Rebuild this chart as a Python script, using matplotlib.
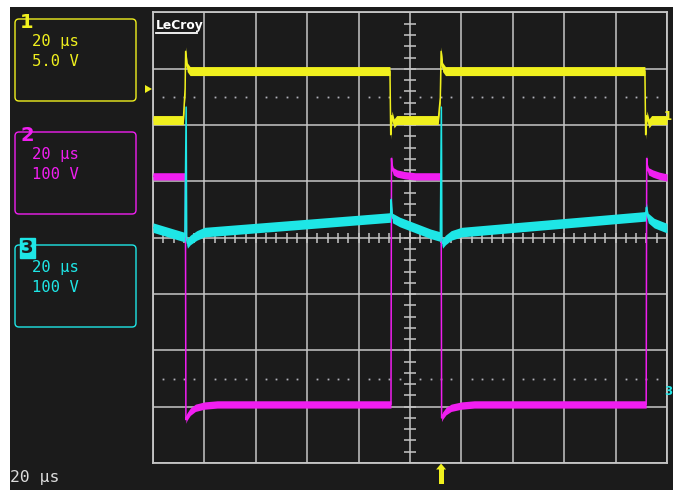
import matplotlib
matplotlib.use("Agg")
import matplotlib.pyplot as plt
import numpy as np
from matplotlib.patches import FancyBboxPatch, Rectangle, Polygon

W, H, DPI = 673, 490, 100

BG = "#1b1b1b"
GRID = "#c6c6c6"
YEL = "#f0f01e"
MAG = "#f01ef0"
CYA = "#1ee6e6"
DOTC = "#b0b0b8"

# ---- acquisition settings -------------------------------------------------
time_per_div = 20.0            # µs / div
t_left, t_right = -100.0, 100.0
div_bottom, div_top = -4.0, 4.0
trigger_time = 12.1            # µs

channel_ids = ["1", "2", "3"]
channel_timebase = ["20 µs", "20 µs", "20 µs"]
channel_vdiv_text = ["5.0 V", "100 V", "100 V"]
channel_vdiv = [5.0, 100.0, 100.0]          # V / div
channel_ground = [2.09, -2.96, -2.62]       # ground position, div
channel_colors = [YEL, MAG, CYA]
channel_noise_div = [0.08, 0.065, 0.085]    # half-height of the noise band, div

# ---- channel 1: gate drive (V) --------------------------------------------
ch1_t = [-100, -88.2, -87.5, -87.3, -86.7, -85.6, -7.8, -7.5, -7.0, -6.2, -5.2,
         11.0, 11.8, 12.1, 12.7, 13.8, 91.4, 91.7, 92.2, 93.0, 94.0, 100]
ch1_v = [0.0, 0.0, 2.8, 6.1, 4.7, 4.35, 4.35, -1.3, 0.4, -0.3, 0.0,
         0.0, 2.0, 6.1, 4.7, 4.35, 4.35, -1.3, 0.4, -0.3, 0.0, 0.0]

# ---- channel 2: switch voltage (V) ----------------------------------------
ch2_t = [-100, -87.4, -87.2, -86.8, -85.5, -83.5, -80, -75,
         -7.4, -7.2, -7.0, -6.5, -5, -2, 2,
         12.1, 12.3, 12.7, 14, 16, 20, 25,
         91.9, 92.1, 92.3, 92.8, 94.5, 97, 100]
ch2_v = [405, 405, -27, -22, -13, -6, -2, 0,
         0, 437, 422, 414, 410, 407, 405,
         405, -24, -20, -12, -6, -2, 0,
         0, 437, 422, 414, 410, 406, 403]

# ---- channel 3 (V) ----------------------------------------------------------
ch3_t = [-100, -87.6, -87.1, -86.9, -86.6, -85.5, -83, -80,
         -7.6, -7.3, -7.1, -6.8, -4, 0, 4, 8,
         11.8, 12.2, 12.4, 12.7, 13.8, 16, 20,
         91.6, 92.0, 92.3, 92.7, 95, 100]
ch3_v = [280, 263, 494, 258, 252, 258, 266, 272,
         298, 330, 310, 297, 290, 283, 276, 269,
         264, 494, 258, 252, 258, 266, 272,
         300, 316, 305, 297, 288, 279]

traces = [(ch1_t, ch1_v), (ch2_t, ch2_v), (ch3_t, ch3_v)]

# ---- figure ----------------------------------------------------------------
fig = plt.figure(figsize=(W / DPI, H / DPI), dpi=DPI)
fig.patch.set_facecolor("white")

# pixel-space layer for the screen furniture
ui = fig.add_axes([0, 0, 1, 1], zorder=0)
ui.set_xlim(0, W)
ui.set_ylim(H, 0)
ui.axis("off")
ui.add_patch(Rectangle((10, 7), W, H, facecolor=BG, edgecolor="none"))

# graticule area
gx0, gx1, gy0, gy1 = 153, 667, 12.5, 463
ax = fig.add_axes([gx0 / W, 1 - gy1 / H, (gx1 - gx0) / W, (gy1 - gy0) / H], zorder=1)
ax.set_facecolor(BG)
ax.set_xlim(t_left, t_right)
ax.set_ylim(div_bottom, div_top)
ax.set_xticks(np.arange(t_left, t_right + 0.1, time_per_div))
ax.set_yticks(np.arange(div_bottom, div_top + 0.1, 1.0))
ax.tick_params(length=0, labelbottom=False, labelleft=False)
ax.grid(True, color=GRID, lw=1.1, zorder=1)
ax.set_axisbelow(True)
for s in ax.spines.values():
    s.set_color(GRID)
    s.set_linewidth(1.3)

# minor ticks along the centre axes
minor_t = np.arange(t_left, t_right + 0.01, time_per_div / 5)
minor_d = np.arange(div_bottom, div_top + 0.01, 0.2)
ax.vlines(minor_t, -0.09, 0.09, color=GRID, lw=1.1, zorder=1)
ax.hlines(minor_d, -2.3, 2.3, color=GRID, lw=1.1, zorder=1)

# dotted reference rows
dot_t = [t for t in minor_t if abs(t / time_per_div - round(t / time_per_div)) > 1e-6]
for lvl in (2.5, -2.5):
    ax.plot(dot_t, [lvl] * len(dot_t), ls="none", marker="s", ms=1.3,
            mfc=DOTC, mec="none", zorder=1)

# traces: noise band plus thin core, channel 3 over 1, channel 2 on top
draw_order = [0, 2, 1]
for k in draw_order:
    t, v = traces[k]
    d = channel_ground[k] + np.asarray(v, float) / channel_vdiv[k]
    h = channel_noise_div[k]
    ax.fill_between(t, d - h, d + h, color=channel_colors[k], lw=0, zorder=3 + k)
    ax.plot(t, d, color=channel_colors[k], lw=1.1, zorder=3 + k)

# overlay layer: logo and ground markers above the graticule
top = fig.add_axes([0, 0, 1, 1], zorder=2)
top.set_xlim(0, W)
top.set_ylim(H, 0)
top.axis("off")
top.patch.set_alpha(0)
top.text(156, 29, "LeCroy", color="white", fontsize=8.8, fontweight="bold",
         family="DejaVu Sans", ha="left", va="baseline")
top.plot([156, 197], [33, 33], color="white", lw=1.3)
top.text(672, 120, "1", color=YEL, fontsize=8.5, fontweight="bold",
         family="DejaVu Sans", ha="right", va="baseline")
top.text(672, 395, "3", color=CYA, fontsize=8.5, fontweight="bold",
         family="DejaVu Sans", ha="right", va="baseline")

# channel descriptor boxes
box_tops = [19, 132, 245]
box_h = 82
label_base = [28, 141, 253]
for i in range(3):
    c = channel_colors[i]
    ui.add_patch(FancyBboxPatch((15, box_tops[i]), 121, box_h,
                                boxstyle="round,pad=0,rounding_size=4",
                                facecolor="none", edgecolor=c, lw=1.0))
    ui.text(32, box_tops[i] + 27, channel_timebase[i], color=c, fontsize=11.2,
            family="DejaVu Sans Mono", ha="left", va="baseline")
    ui.text(32, box_tops[i] + 47, channel_vdiv_text[i], color=c, fontsize=11.2,
            family="DejaVu Sans Mono", ha="left", va="baseline")
    if i == 2:
        ui.text(21, label_base[i], channel_ids[i], color=BG, fontsize=13,
                fontweight="bold", family="DejaVu Sans", ha="left", va="baseline",
                bbox=dict(boxstyle="square,pad=0.08", facecolor=c, edgecolor=c))
    else:
        ui.text(20, label_base[i], channel_ids[i], color=c, fontsize=14,
                fontweight="bold", family="DejaVu Sans", ha="left", va="baseline")

# timebase readout
ui.text(10, 482, "20 µs", color="#dcdcdc", fontsize=11.8,
        family="DejaVu Sans Mono", ha="left", va="baseline")

# trigger level arrow (left) and trigger position arrow (bottom)
ui.add_patch(Polygon([(145, 85), (145, 93), (152, 89)], closed=True,
                     facecolor=YEL, edgecolor="none"))
tx = gx0 + (trigger_time - t_left) / (t_right - t_left) * (gx1 - gx0)
ui.add_patch(Polygon([(tx - 5, 469.5), (tx + 5, 469.5), (tx, 463.5)], closed=True,
                     facecolor=YEL, edgecolor="none"))
ui.add_patch(Rectangle((tx - 2.5, 469), 5, 15, facecolor=YEL, edgecolor="none"))

fig.savefig("out.png", dpi=DPI, facecolor=fig.get_facecolor())
